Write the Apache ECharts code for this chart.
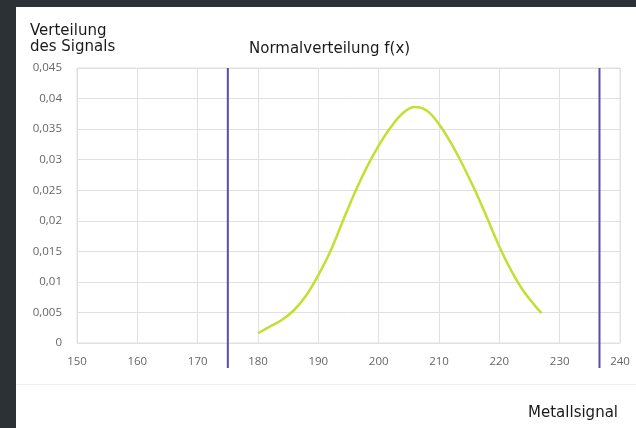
<!DOCTYPE html>
<html>
<head>
<meta charset="utf-8">
<script src="https://cdn.jsdelivr.net/npm/echarts@6/dist/echarts.min.js"></script>
<style>
html,body{margin:0;padding:0;background:#2b3134;width:636px;height:428px;overflow:hidden;}
#panel{position:absolute;left:16px;top:7px;width:620px;height:421px;background:#ffffff;}
#sep{position:absolute;left:16px;top:384px;width:620px;height:1px;background:#efefef;}
#chart{position:absolute;left:0;top:0;width:636px;height:428px;}
</style>
</head>
<body>
<div id="panel"></div>
<div id="sep"></div>
<div id="chart"></div>
<script>
const xValues = [180,182,184,186,188,190,192,194,196,198,200,202,204,206,208,210,212,214,216,218,220,222,224,226,227];
const fValues = [0.0016,0.0027,0.0038,0.0054,0.0078,0.0111,0.0150,0.0198,0.0245,0.0287,0.0323,0.0353,0.0376,0.0386,0.0380,0.0358,0.0327,0.0290,0.0249,0.0204,0.0158,0.0118,0.0085,0.0060,0.0049];
const limits = [175, 236.6];
const limitSpan = [-0.0041, 0.045];
const xTicks = {min:150, max:240, interval:10};
const yTicks = {min:0, max:0.045, interval:0.005};

const chart = echarts.init(document.getElementById('chart'), null, {renderer:'canvas'});
const limitSeries = limits.map(x => ({
  type:'line', data: limitSpan.map(y => [x, y]), symbol:'none', clip:false,
  lineStyle:{color:'#5a4ea3', width:2}, silent:true, z:3
}));
const titleFont = {fontFamily:'DejaVu Sans', fontSize:15, fontWeight:'normal', color:'#1a1a1a'};
chart.setOption({
  backgroundColor:'transparent',
  animation:false,
  title:[
    {text:'Verteilung\ndes Signals', left:25, top:18, textStyle:Object.assign({lineHeight:16}, titleFont)},
    {text:'Normalverteilung f(x)', left:244, top:37, textStyle:titleFont},
    {text:'Metallsignal', right:13, top:401, textStyle:titleFont}
  ],
  grid:{left:77, right:16, top:68, bottom:85, show:true, borderColor:'#e0e0e0', borderWidth:1},
  xAxis:{type:'value', min:xTicks.min, max:xTicks.max, interval:xTicks.interval,
    axisLine:{show:false}, axisTick:{show:false},
    splitLine:{show:true, lineStyle:{color:'#e0e0e0', width:1}},
    axisLabel:{color:'#666666', fontFamily:'Open Sans', fontSize:11.5, margin:13}},
  yAxis:{type:'value', min:yTicks.min, max:yTicks.max, interval:yTicks.interval,
    axisLine:{show:false}, axisTick:{show:false},
    splitLine:{show:true, lineStyle:{color:'#e0e0e0', width:1}},
    axisLabel:{color:'#666666', fontFamily:'Open Sans', fontSize:11.5, margin:15,
      formatter: v => String(Number(v.toFixed(3))).replace('.', ',')}},
  series:[
    {type:'line', data:xValues.map((x,i)=>[x,fValues[i]]), smooth:0.4, symbol:'none',
     lineStyle:{color:'#c4df32', width:2.5}, z:4},
    ...limitSeries
  ]
});
</script>
</body>
</html>
